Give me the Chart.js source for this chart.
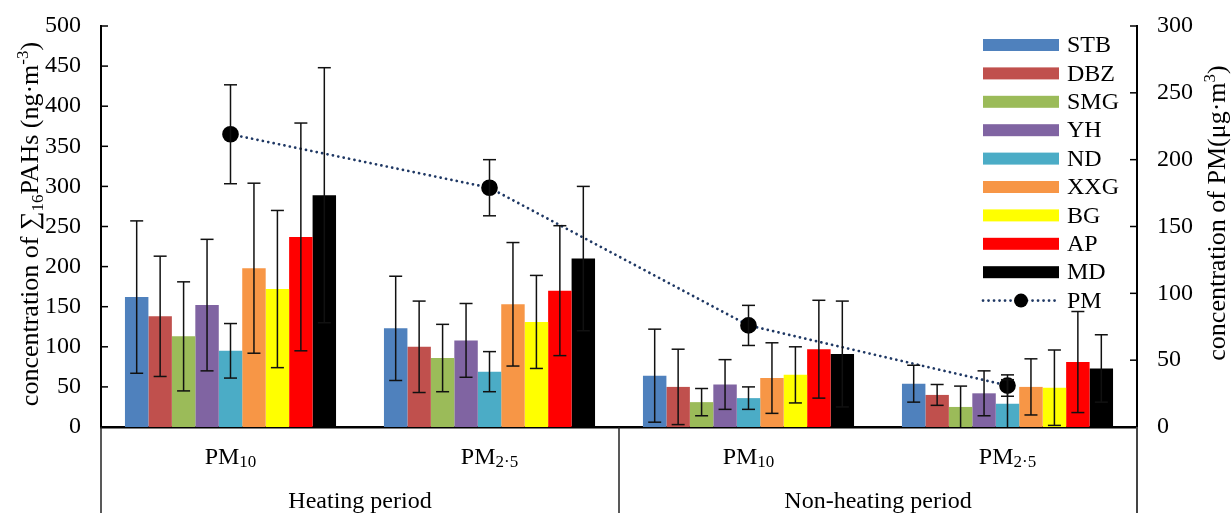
<!DOCTYPE html>
<html><head><meta charset="utf-8">
<script src="https://cdn.jsdelivr.net/npm/chart.js@4/dist/chart.umd.min.js"></script>
<style>html,body{margin:0;padding:0;background:#fff}#wrap{width:1231px;height:513px}</style>
</head><body><div id="wrap"><canvas id="c" width="1231" height="513"></canvas></div>
<script>
// ---------- data ----------
const categories = ['PM10', 'PM2.5', 'PM10', 'PM2.5'];
const catMain = ['PM', 'PM', 'PM', 'PM'];
const catSub = ['10', '2·5', '10', '2·5'];
const periods = ['Heating period', 'Non-heating period'];
const siteNames = ['STB', 'DBZ', 'SMG', 'YH', 'ND', 'XXG', 'BG', 'AP', 'MD'];
const siteColors = ['#4F81BD', '#C0504D', '#9BBB59', '#8064A2', '#4BACC6', '#F79646', '#FFFF00', '#FF0000', '#000000'];

const STB = [162, 123, 64, 54];
const DBZ = [138, 100, 50, 40];
const SMG = [113, 86, 31, 25];
const YH  = [152, 108, 53, 42];
const ND  = [95, 69, 36, 29];
const XXG = [198, 153, 61, 50];
const BG  = [172, 131, 65, 49];
const AP  = [237, 170, 97, 81];
const MD  = [289, 210, 91, 73];

const STB_err = [95, 65, 58, 23];
const DBZ_err = [75, 57, 47, 13];
const SMG_err = [68, 42, 17, 26];
const YH_err  = [82, 46, 31, 28];
const ND_err  = [34, 25, 14, 30];
const XXG_err = [106, 77, 44, 35];
const BG_err  = [98, 58, 35, 47];
const AP_err  = [142, 81, 61, 63];
const MD_err  = [159, 90, 66, 42];

const PM = [219, 179, 76, 31];
const PM_err = [37, 21, 15, 8];

const leftMin = 0, leftMax = 500, leftStep = 50;
const rightMin = 0, rightMax = 300, rightStep = 50;

const siteValues = [STB, DBZ, SMG, YH, ND, XXG, BG, AP, MD];
const siteErrors = [STB_err, DBZ_err, SMG_err, YH_err, ND_err, XXG_err, BG_err, AP_err, MD_err];

// ---------- chart ----------
const FAM = '"Liberation Serif", "Times New Roman", serif';
Chart.defaults.font.family = FAM;
Chart.defaults.color = '#000';

const datasets = [{
  type: 'line', label: 'PM', data: PM, errors: PM_err, yAxisID: 'y1', order: 0,
  borderColor: '#1F3864', borderWidth: 2.7, borderDash: [0.1, 5.4], borderCapStyle: 'round',
  pointRadius: 7, pointHoverRadius: 7, pointBackgroundColor: '#000', pointBorderColor: '#000',
  fill: false, tension: 0
}];
siteNames.forEach((n, i) => datasets.push({
  type: 'bar', label: n, data: siteValues[i], errors: siteErrors[i], yAxisID: 'y', order: 1,
  backgroundColor: siteColors[i], borderWidth: 0,
  categoryPercentage: 0.815, barPercentage: 1.0
}));

function line(ctx, x1, y1, x2, y2) { ctx.beginPath(); ctx.moveTo(x1, y1); ctx.lineTo(x2, y2); ctx.stroke(); }

function richWidth(ctx, segs) {
  let w = 0;
  segs.forEach(s => { ctx.font = s.size + 'px ' + FAM; s.w = ctx.measureText(s.t).width; w += s.w; });
  return w;
}
function drawRich(ctx, segs, x0, base) {
  let x = x0;
  segs.forEach(s => { ctx.font = s.size + 'px ' + FAM; ctx.fillText(s.t, x, base + (s.dy || 0)); x += s.w; });
}

const errorBars = {
  id: 'errorBars',
  afterDatasetsDraw(chart) {
    const { ctx, chartArea: a } = chart;
    ctx.save();
    ctx.beginPath(); ctx.rect(a.left, a.top - 5, a.right - a.left, a.bottom - a.top + 5); ctx.clip();
    ctx.strokeStyle = '#111'; ctx.lineWidth = 1.5;
    chart.data.datasets.forEach((ds, di) => {
      const meta = chart.getDatasetMeta(di);
      const sc = chart.scales[ds.yAxisID];
      meta.data.forEach((el, i) => {
        const v = ds.data[i], e = ds.errors[i];
        const x = el.x;
        const yt = sc.getPixelForValue(v + e), yb = sc.getPixelForValue(v - e);
        line(ctx, x, yt, x, yb);
        line(ctx, x - 6.5, yt, x + 6.5, yt);
        line(ctx, x - 6.5, yb, x + 6.5, yb);
      });
    });
    ctx.restore();
  }
};

const decor = {
  id: 'decor',
  afterDraw(chart) {
    const { ctx, chartArea: a, scales } = chart;
    const x = scales.x, y = scales.y, y1 = scales.y1;
    ctx.save();
    // inward tick marks
    ctx.strokeStyle = '#000'; ctx.lineWidth = 1.5;
    y.ticks.forEach(t => { const p = y.getPixelForValue(t.value); line(ctx, a.left, p, a.left + 7, p); });
    y1.ticks.forEach(t => { const p = y1.getPixelForValue(t.value); line(ctx, a.right - 7, p, a.right, p); });
    // lower category box lines
    const mid = (x.getPixelForValue(1) + x.getPixelForValue(2)) / 2;
    ctx.strokeStyle = '#222'; ctx.lineWidth = 1.5;
    line(ctx, a.left, a.bottom, a.left, chart.height);
    line(ctx, mid, a.bottom, mid, chart.height);
    ctx.strokeStyle = '#444'; ctx.lineWidth = 2;
    line(ctx, a.right, a.bottom, a.right, chart.height);

    ctx.fillStyle = '#000'; ctx.textBaseline = 'alphabetic'; ctx.textAlign = 'left';
    // category labels
    categories.forEach((c, i) => {
      const segs = [{ t: catMain[i], size: 24 }, { t: catSub[i], size: 17, dy: 3 }];
      const w = richWidth(ctx, segs);
      drawRich(ctx, segs, x.getPixelForValue(i) - w / 2, 464);
    });
    // period labels
    ctx.font = '24px ' + FAM; ctx.textAlign = 'center';
    ctx.fillText(periods[0], (a.left + mid) / 2, 508);
    ctx.fillText(periods[1], (mid + a.right) / 2, 508);
    ctx.textAlign = 'left';

    // axis titles
    ctx.save();
    ctx.translate(38, 224); ctx.rotate(-Math.PI / 2);
    let segs = [{ t: 'concentration of ∑', size: 26 }, { t: '16', size: 17, dy: 5 }, { t: 'PAHs (ng·m', size: 26 }, { t: '-3', size: 17, dy: -10 }, { t: ')', size: 26 }];
    let w = richWidth(ctx, segs);
    drawRich(ctx, segs, -w / 2, 0);
    ctx.restore();

    ctx.save();
    ctx.translate(1225, 213); ctx.rotate(-Math.PI / 2);
    segs = [{ t: 'concentration of PM(μg·m', size: 26 }, { t: '3', size: 17, dy: -10 }, { t: ')', size: 26 }];
    w = richWidth(ctx, segs);
    drawRich(ctx, segs, -w / 2, 0);
    ctx.restore();

    // legend
    const lx = 983, lw = 76, ly0 = 45, step = 28.4;
    ctx.font = '24px ' + FAM; ctx.textBaseline = 'middle';
    const bars = chart.data.datasets.filter(d => d.type === 'bar');
    bars.forEach((d, i) => {
      const cy = ly0 + i * step;
      ctx.fillStyle = d.backgroundColor; ctx.fillRect(lx, cy - 6, lw, 12);
      ctx.fillStyle = '#000'; ctx.fillText(d.label, lx + 84, cy + 1);
    });
    const pmd = chart.data.datasets.find(d => d.type === 'line');
    const cy = ly0 + bars.length * step;
    ctx.strokeStyle = pmd.borderColor; ctx.lineWidth = pmd.borderWidth; ctx.setLineDash(pmd.borderDash); ctx.lineCap = 'round';
    line(ctx, lx, cy, lx + lw, cy);
    ctx.setLineDash([]);
    ctx.fillStyle = '#000'; ctx.beginPath(); ctx.arc(lx + lw / 2, cy, 7, 0, Math.PI * 2); ctx.fill();
    ctx.fillText(pmd.label, lx + 84, cy + 1);
    ctx.restore();
  }
};

function fitY(width) {
  return function (s) { s.width = width; s.paddingTop = 0; s.paddingBottom = 0; };
}

new Chart(document.getElementById('c'), {
  type: 'bar',
  data: { labels: categories, datasets },
  options: {
    responsive: false, animation: false, devicePixelRatio: 1,
    layout: { padding: { top: 26, left: 0, right: 0, bottom: 0 } },
    plugins: { legend: { display: false }, tooltip: { enabled: false } },
    scales: {
      x: {
        type: 'category', offset: true,
        grid: { display: false, drawTicks: false },
        ticks: { display: false },
        border: { display: true, color: '#000', width: 2.5 },
        afterFit(s) { s.height = 86; s.paddingLeft = 0; s.paddingRight = 0; }
      },
      y: {
        position: 'left', min: leftMin, max: leftMax,
        ticks: { stepSize: leftStep, padding: 20, font: { size: 24, family: FAM }, color: '#000' },
        grid: { display: false, drawTicks: false },
        border: { display: true, color: '#000', width: 2 },
        afterFit: fitY(101)
      },
      y1: {
        position: 'right', min: rightMin, max: rightMax,
        ticks: { stepSize: rightStep, padding: 20, font: { size: 24, family: FAM }, color: '#000' },
        grid: { display: false, drawTicks: false },
        border: { display: true, color: '#000', width: 2 },
        afterFit: fitY(94)
      }
    }
  },
  plugins: [errorBars, decor]
});
</script></body></html>
